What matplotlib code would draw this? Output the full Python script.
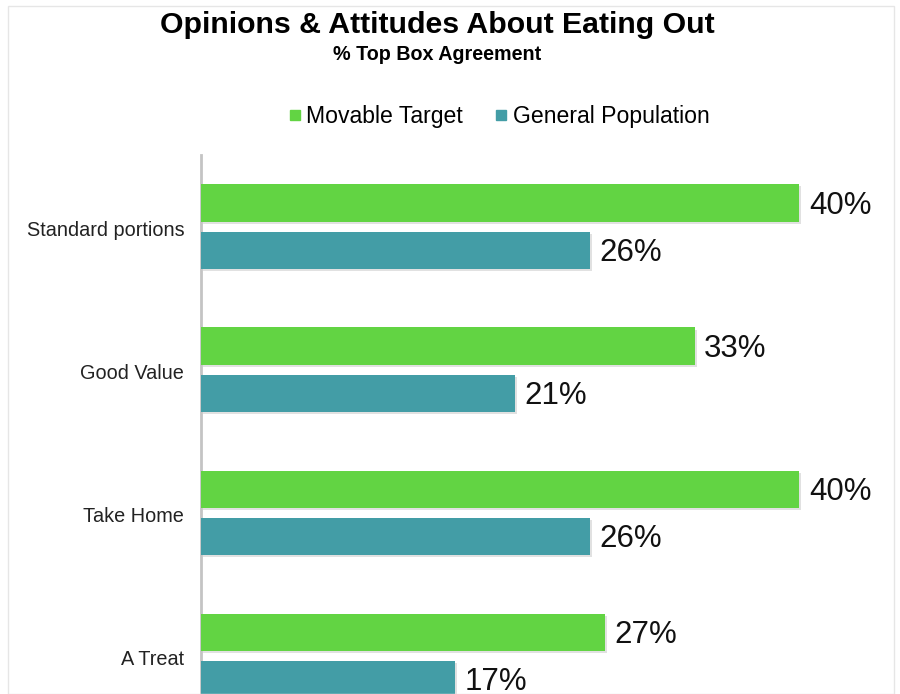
import matplotlib
matplotlib.use("Agg")
import matplotlib.pyplot as plt
import matplotlib.patheffects as pe
from matplotlib.lines import Line2D
import numpy as np

plt.rcParams['font.family'] = ['Liberation Sans', 'DejaVu Sans']

categories = ["Standard portions", "Good Value", "Take Home", "A Treat"]
movable_target = [40, 33, 40, 27]
general_population = [26, 21, 26, 17]
series_names = ["Movable Target", "General Population"]
colors = ["#62D443", "#439DA6"]

fig = plt.figure(figsize=(9, 6.94), dpi=100)

# outer frame
frame = plt.Rectangle((8/900, 0), (894-8)/900, (694-6)/694, transform=fig.transFigure,
                      fill=False, edgecolor="#e6e6e6", linewidth=1)
fig.patches.append(frame)

ax_left = 201/900
ax_top = 155
ax_bottom = 729
ax = fig.add_axes([ax_left, (694-ax_bottom)/694, 673/900, (ax_bottom-ax_top)/694])

y = np.arange(len(categories))
h = 0.26
off_g = -0.175
off_t = 0.155
shadow = [pe.SimplePatchShadow(offset=(1.5, -1.5), alpha=0.25, shadow_rgbFace="#888888"), pe.Normal()]

b1 = ax.barh(y + off_g, movable_target, height=h, color=colors[0], path_effects=shadow, zorder=3)
b2 = ax.barh(y + off_t, general_population, height=h, color=colors[1], path_effects=shadow, zorder=3)

for bars, vals in ((b1, movable_target), (b2, general_population)):
    for b, v in zip(bars, vals):
        ax.annotate(f"{v}%", (b.get_width(), b.get_y() + b.get_height()/2),
                    xytext=(7, -2), textcoords="offset points",
                    va="center", ha="left", fontsize=22.5, color="#111111",
                    annotation_clip=False)

ax.set_xlim(0, 45)
ax.set_ylim(3.5, -0.51)
ax.set_yticks(y)
ax.set_yticklabels(categories, fontsize=14.3, color="#222222")
ax.tick_params(axis='y', length=0, pad=12)
ax.set_xticks([])
for s in ("top", "right", "bottom"):
    ax.spines[s].set_visible(False)
ax.spines["left"].set_color("#c4c4c4")
ax.spines["left"].set_linewidth(2)

fig.text(437/900, 1 - 25/694, "Opinions & Attitudes About Eating Out", ha="center", va="center",
         fontsize=21.8, fontweight="bold", color="#000000")
fig.text(437/900, 1 - 54.5/694, "% Top Box Agreement", ha="center", va="center",
         fontsize=14.2, fontweight="bold", color="#000000")

handles = [Line2D([], [], marker="s", linestyle="none", markersize=7, color=c) for c in colors]
fig.legend(handles, series_names, loc="center", bbox_to_anchor=(497/900, 1 - 117/694),
           ncol=2, frameon=False, fontsize=16.6, handletextpad=0.05, columnspacing=1.2,
           handlelength=0.9)

fig.savefig("out.png", dpi=100)
